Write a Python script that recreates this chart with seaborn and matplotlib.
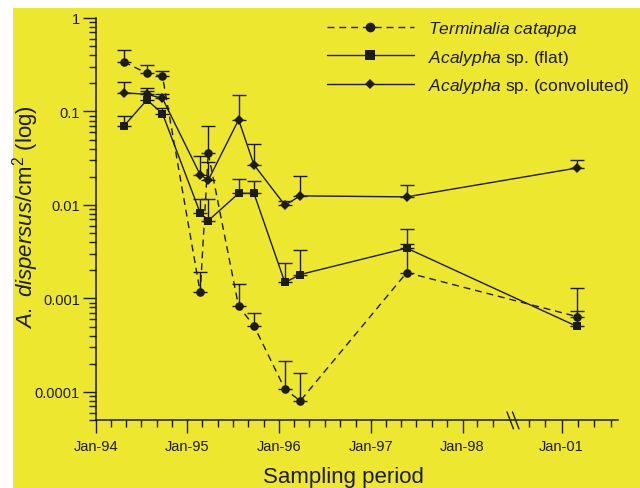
import numpy as np
import pandas as pd
import seaborn as sns
import matplotlib
matplotlib.use('Agg')
import matplotlib.pyplot as plt
from matplotlib.lines import Line2D
from matplotlib.patches import Rectangle
from matplotlib.ticker import FixedLocator, FixedFormatter, NullFormatter, LogLocator

# sampling dates (same for all three substrates)
dates = ['1994-04-23', '1994-07-24', '1994-09-24', '1995-02-21', '1995-03-25',
         '1995-07-24', '1995-09-23', '1996-01-24', '1996-03-25', '1997-05-24',
         '2001-02-25']

# mean density and top of error bar, per substrate
terminalia = [0.34, 0.256, 0.238, 0.00116, 0.036, 0.00082, 0.00051, 0.000107, 0.00008, 0.00189, 0.00064]
terminalia_up = [0.46, 0.316, 0.27, 0.0019, 0.070, 0.00144, 0.000695, 0.000213, 0.000159, 0.00378, 0.0013]
flat = [0.0698, 0.133, 0.095, 0.0082, 0.0068, 0.0133, 0.0133, 0.00148, 0.0018, 0.00345, 0.000504]
flat_up = [0.089, 0.178, 0.11, 0.0115, 0.0117, 0.019, 0.018, 0.0024, 0.0033, 0.00555, 0.00074]
conv = [0.158, 0.153, 0.138, 0.021, 0.0184, 0.0815, 0.0269, 0.00995, 0.0125, 0.0122, 0.0248]
conv_up = [0.206, 0.167, 0.155, 0.033, 0.029, 0.15, 0.0444, 0.011, 0.0205, 0.0164, 0.0304]

series_names = ['Terminalia catappa', 'Acalypha sp. (flat)', 'Acalypha sp. (convoluted)']
major_dates = ['1994-01-01', '1995-01-01', '1996-01-01', '1997-01-01', '1998-01-01', '2001-01-01']
major_labels = ['Jan-94', 'Jan-95', 'Jan-96', 'Jan-97', 'Jan-98', 'Jan-01']
y_ticks = [1e-4, 1e-3, 1e-2, 1e-1, 1]
y_labels = ['0.0001', '0.001', '0.01', '0.1', '1']

YELLOW = '#EDE72F'
INK = '#1c1c1c'


def axis_pos(d):
    # broken time axis: 1998-2000 is squeezed out, Jan-01 sits just after the break
    d = pd.Timestamp(d)
    yrs = d.year + (d.dayofyear - 1) / 365.25 - 1994
    if yrs > 5.5:
        return 5.08 + (yrs - 7) * 1.086
    return yrs


df = pd.DataFrame({
    'pos': [axis_pos(d) for d in dates] * 3,
    'value': terminalia + flat + conv,
    'upper': terminalia_up + flat_up + conv_up,
    'series': np.repeat(series_names, len(dates)),
})

sns.set_style('ticks')
plt.rcParams['font.family'] = ['Liberation Sans', 'DejaVu Sans']
plt.rcParams['mathtext.fontset'] = 'custom'
plt.rcParams['mathtext.rm'] = 'Liberation Sans'
plt.rcParams['mathtext.it'] = 'Liberation Sans:italic'

fig = plt.figure(figsize=(6.4, 4.89), dpi=100, facecolor='white')
fig.patches.append(Rectangle((13 / 640, 0), 1, 1 - 9 / 489, transform=fig.transFigure,
                             facecolor=YELLOW, edgecolor='none', zorder=-10))
ax = fig.add_axes([95.7 / 640, 68 / 489, 522 / 640, 402 / 489])
ax.set_facecolor(YELLOW)
ax.patch.set_alpha(0)

sns.lineplot(data=df, x='pos', y='value', hue='series', style='series',
             palette=[INK] * 3, markers={'Terminalia catappa': 'o', 'Acalypha sp. (flat)': 's',
                                         'Acalypha sp. (convoluted)': 'D'},
             dashes={'Terminalia catappa': (5, 3.5), 'Acalypha sp. (flat)': '',
                     'Acalypha sp. (convoluted)': ''},
             estimator=None, sort=False, linewidth=1.0, markersize=6.2,
             markeredgewidth=0, legend=False, ax=ax, zorder=3)
# diamonds come out too big at the shared size
for ln in ax.lines:
    if ln.get_marker() == 'D':
        ln.set_markersize(4.9)

for name in series_names:
    sub = df[df.series == name]
    ax.errorbar(sub.pos, sub.value, yerr=[np.zeros(len(sub)), sub.upper - sub.value],
                fmt='none', ecolor=INK, elinewidth=1.0, capsize=4.7, capthick=1.0, zorder=2)

ax.set_yscale('log')
ax.set_ylim(5e-5, 1)
ax.set_xlim(0, 5.692)

ax.yaxis.set_major_locator(FixedLocator(y_ticks))
ax.yaxis.set_major_formatter(FixedFormatter(y_labels))
ax.yaxis.set_minor_locator(LogLocator(base=10, subs=np.arange(2, 10), numticks=20))
ax.yaxis.set_minor_formatter(NullFormatter())

ax.xaxis.set_major_locator(FixedLocator([axis_pos(d) for d in major_dates]))
ax.xaxis.set_major_formatter(FixedFormatter(major_labels))
minor_dates = list(pd.date_range('1994-03-01', '1998-05-01', freq='2MS')) + \
              list(pd.date_range('2000-09-01', '2001-07-01', freq='2MS'))
ax.xaxis.set_minor_locator(FixedLocator([axis_pos(d) for d in minor_dates]))

ax.tick_params(which='major', length=9.2, width=1.0, color=INK, labelsize=10.5,
               labelcolor=INK, direction='out')
ax.tick_params(axis='y', which='major', pad=2.2)
ax.tick_params(axis='x', which='major', pad=4.5)
ax.tick_params(which='minor', length=4.7, width=1.0, color=INK, direction='out')

sns.despine(ax=ax)
for s in ['left', 'bottom']:
    ax.spines[s].set_color(INK)
    ax.spines[s].set_linewidth(1.1)
ax.set_xlabel('')
ax.set_ylabel('')

# axis break marks
brk = 4.55
for dx in (-0.03, 0.03):
    ax.plot([brk + dx - 0.035, brk + dx + 0.035], [0.02, -0.022], color=INK, lw=1.0,
            transform=ax.get_xaxis_transform(), clip_on=False, zorder=5)

fig.text(343 / 640, 1 - 478 / 489, 'Sampling period', ha='center', va='center',
         fontsize=16, color=INK)
fig.text(26 / 640, 1 - 217 / 489, r'$\it{A.}$ $\it{dispersus}$/cm$^2$ (log)', ha='center',
         va='center', rotation=90, fontsize=16, color=INK)

handles = [
    Line2D([], [], color=INK, lw=1.0, dashes=(5, 3.5), marker='o', markersize=7, markeredgewidth=0),
    Line2D([], [], color=INK, lw=1.0, marker='s', markersize=7, markeredgewidth=0),
    Line2D([], [], color=INK, lw=1.0, marker='D', markersize=5.5, markeredgewidth=0),
]
labels = [r'$\it{Terminalia}$ $\it{catappa}$', r'$\it{Acalypha}$ sp. (flat)',
          r'$\it{Acalypha}$ sp. (convoluted)']
fig.legend(handles, labels, loc='upper left', bbox_to_anchor=(327 / 640, 1 - 20 / 489),
           frameon=False, fontsize=12.5, handlelength=5.0, handletextpad=0.8,
           labelspacing=0.55, borderpad=0, borderaxespad=0, labelcolor=INK)

fig.savefig('out.png', dpi=100, facecolor='white')
